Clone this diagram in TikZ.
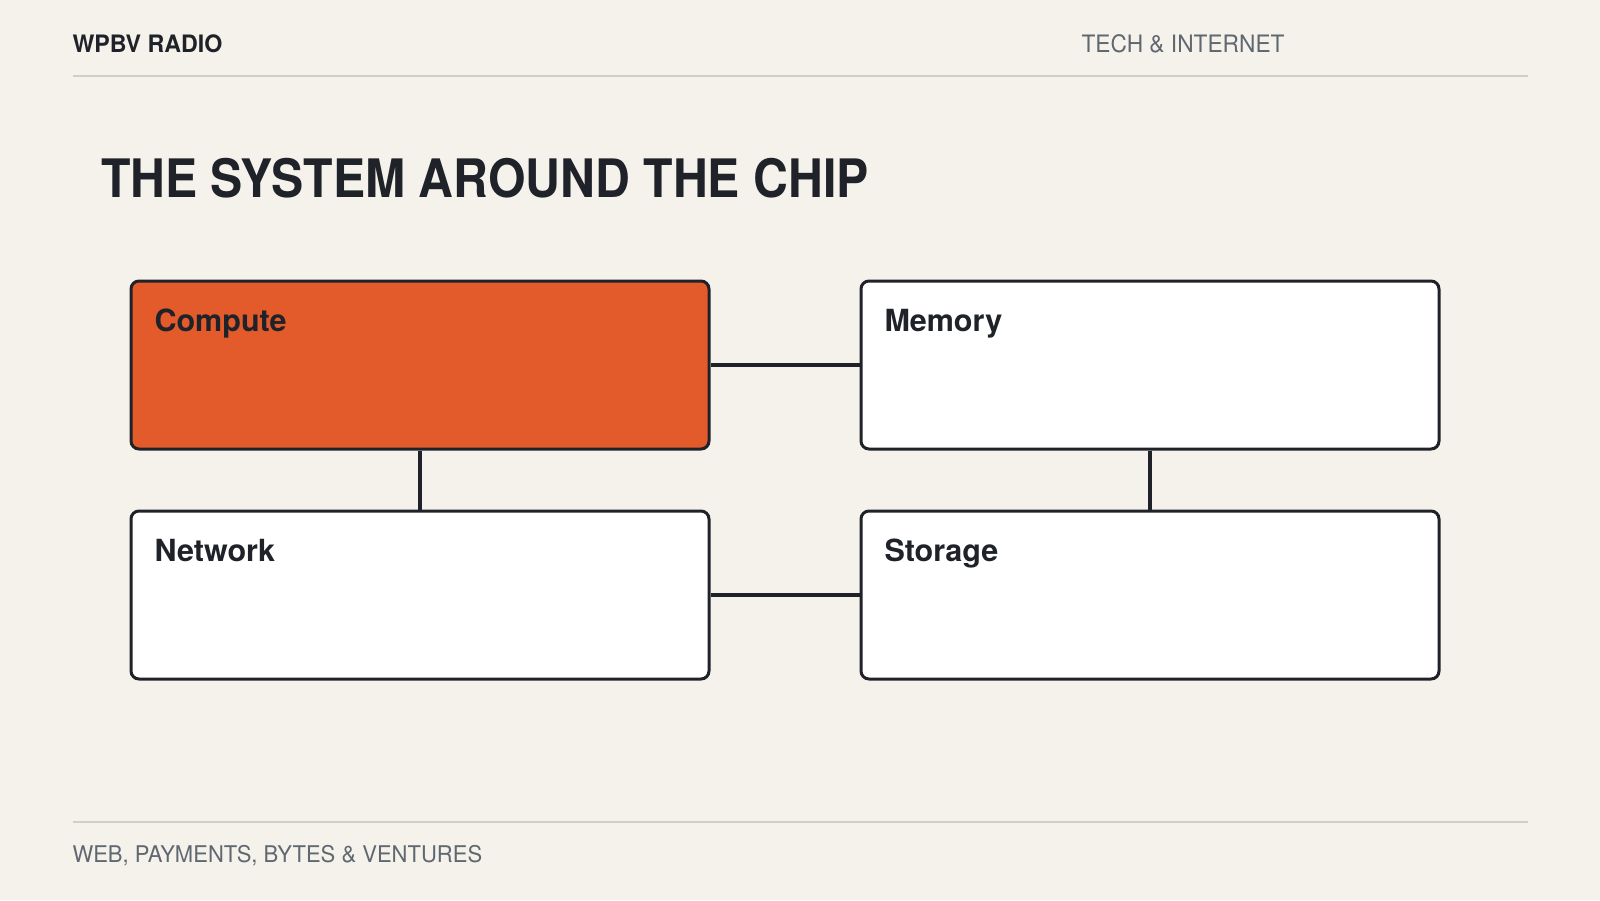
\documentclass[tikz,border=0pt]{standalone}
\usepackage{fontspec}
\usepackage{graphicx}
\setmainfont{TeX Gyre Heros}
\definecolor{bg}{HTML}{F5F2EB}
\definecolor{ink}{HTML}{1F2329}
\definecolor{muted}{HTML}{5F6770}
\definecolor{rule}{HTML}{D0CFC7}
\definecolor{accent}{HTML}{E35B2B}
\tikzset{
  txt/.style={anchor=base west, inner sep=0pt, outer sep=0pt},
  card/.style={draw=ink, line width=3pt, rounded corners=8pt, fill=white,
    minimum width=578pt, minimum height=168pt, inner sep=0pt},
  hot/.style={card, fill=accent},
  cardlabel/.style={txt, font=\fontsize{30.5}{34}\selectfont\bfseries, text=ink},
  link/.style={draw=ink, line width=3.5pt},
  hair/.style={draw=rule, line width=2pt}
}
\begin{document}
\begin{tikzpicture}[x=1pt,y=-1pt]
\fill[bg] (0,0) rectangle (1600,900);
\useasboundingbox (0,0) rectangle (1600,900);
% header
\node[txt, font=\fontsize{24}{28}\selectfont\bfseries, text=ink] (brand) at (72.5,52.3) {\scalebox{0.967}[1]{WPBV RADIO}};
\node[txt, font=\fontsize{24}{28}\selectfont, text=muted] (topic) at (1081.5,52.3) {\scalebox{0.947}[1]{TECH \& INTERNET}};
\coordinate (tl) at (72.5,75.5);
\coordinate (tr) at (1528,75.5);
\draw[hair] (tl) -- (tr);
% title
\node[txt, font=\fontsize{53}{60}\selectfont\bfseries, text=ink] (title) at (101,197) {\scalebox{0.91}[1]{THE SYSTEM AROUND THE CHIP}};
% cards
\node[hot]  (c) at (420,365) {};
\node[card] (m) at (1150,365) {};
\node[card] (n) at (420,595) {};
\node[card] (s) at (1150,595) {};
\node[cardlabel] (cl) at ([xshift=25pt,yshift=-52pt]c.north west) {Compute};
\node[cardlabel] (ml) at ([xshift=25pt,yshift=-52pt]m.north west) {Memory};
\node[cardlabel] (nl) at ([xshift=25pt,yshift=-52pt]n.north west) {Network};
\node[cardlabel] (sl) at ([xshift=25pt,yshift=-52pt]s.north west) {Storage};
% links
\draw[link] (c.east) -- (m.west);
\draw[link] (c.south) -- (n.north);
\draw[link] (m.south) -- (s.north);
\draw[link] (n.east) -- (s.west);
% footer
\coordinate (bl) at (72.5,821.5);
\coordinate (br) at (1528,821.5);
\draw[hair] (bl) -- (br);
\node[txt, font=\fontsize{23}{27}\selectfont, text=muted] (foot) at (72.5,862.3) {\scalebox{0.957}[1]{WEB, PAYMENTS, BYTES \& VENTURES}};
\end{tikzpicture}
\end{document}
